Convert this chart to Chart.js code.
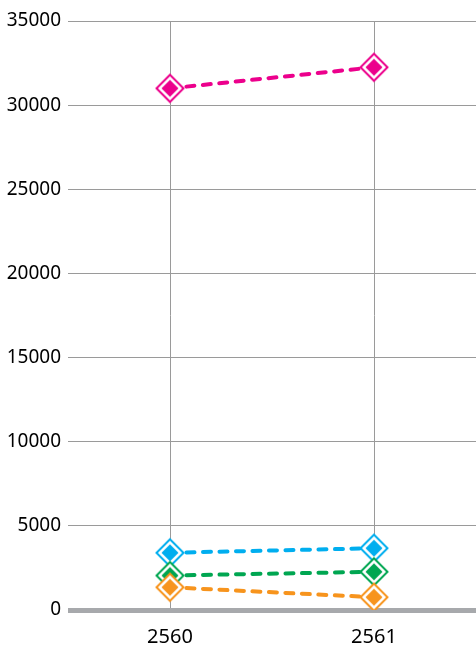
<!DOCTYPE html>
<html>
<head>
<meta charset="utf-8">
<script src="https://cdn.jsdelivr.net/npm/chart.js@4/dist/chart.umd.min.js"></script>
<style>
  html, body { margin: 0; padding: 0; background: #fff; overflow: hidden; }
  canvas { display: block; }
</style>
</head>
<body>
<canvas id="chart" width="476" height="648"></canvas>
<script>
// ─── Data ────────────────────────────────────────────────────────────────────

const years = ["2560", "2561"];
const pinkValues = [31000, 32250];
const blueValues = [3400, 3670];
const greenValues = [2050, 2270];
const orangeValues = [1350, 760];

const FONT = "'Noto Sans', 'DejaVu Sans', sans-serif";

// Diamond marker: outlined ring, white gap, filled core
function diamond(color) {
  const c = document.createElement("canvas");
  c.width = 32;
  c.height = 32;
  const ctx = c.getContext("2d");
  const path = (r) => {
    ctx.beginPath();
    ctx.moveTo(16, 16 - r);
    ctx.lineTo(16 + r, 16);
    ctx.lineTo(16, 16 + r);
    ctx.lineTo(16 - r, 16);
    ctx.closePath();
  };
  path(13.5);
  ctx.fillStyle = "#fff";
  ctx.fill();
  ctx.lineWidth = 2;
  ctx.strokeStyle = color;
  ctx.stroke();
  path(8.5);
  ctx.fillStyle = color;
  ctx.fill();
  return c;
}

function series(values, color) {
  return {
    data: values,
    borderColor: color,
    backgroundColor: color,
    borderWidth: 4,
    borderDash: [8, 8.5],
    borderCapStyle: "round",
    pointStyle: diamond(color),
    pointRadius: 14,
    fill: false,
    tension: 0,
  };
}

// first dataset is drawn on top
const datasets = [
  series(orangeValues, "#f7941d"),
  series(greenValues, "#00a651"),
  series(blueValues, "#00aeef"),
  series(pinkValues, "#ec008c"),
];

new Chart(document.getElementById("chart"), {
  type: "line",
  data: { labels: years, datasets },
  options: {
    responsive: false,
    animation: false,
    layout: { autoPadding: false, padding: { top: 21, right: 0, left: 0, bottom: 0 } },
    plugins: { legend: { display: false }, tooltip: { enabled: false } },
    scales: {
      x: {
        offset: true,
        grid: { offset: false, color: "#9a9a9a", lineWidth: 1, drawTicks: false },
        border: { display: false },
        ticks: { color: "#000", font: { family: FONT, size: 20 }, padding: 15 },
        afterFit: (s) => { s.height = 38; },
      },
      y: {
        min: 0,
        max: 35000,
        grid: {
          drawTicks: false,
          color: (ctx) => ctx.tick && ctx.tick.value === 0 ? "#a7a9ac" : "#9a9a9a",
          lineWidth: (ctx) => ctx.tick && ctx.tick.value === 0 ? 5 : 1,
        },
        border: { display: false },
        ticks: {
          stepSize: 5000,
          color: "#000",
          font: { family: FONT, size: 19 },
          padding: 7,
          callback: (v) => String(v),
        },
        afterFit: (s) => { s.width = 68; },
      },
    },
  },
});
</script>
</body>
</html>
